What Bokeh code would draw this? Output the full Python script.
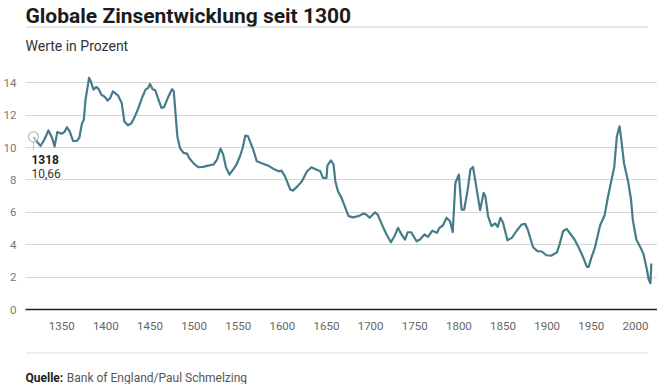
from bokeh.plotting import figure
from bokeh.models import Label, FixedTicker, Range1d
from bokeh.layouts import column
from bokeh.core.properties import value
from bokeh.embed import file_html
from bokeh.resources import INLINE

# ---------------- data ----------------
years = [1318, 1322, 1326, 1330, 1335, 1339, 1342, 1345, 1350, 1353, 1356, 1359,
         1363, 1367, 1370, 1373, 1375, 1377, 1381, 1383, 1386, 1389, 1392, 1395,
         1399, 1402, 1405, 1408, 1414, 1418, 1421, 1425, 1429, 1433, 1437, 1441,
         1445, 1448, 1450, 1453, 1456, 1459, 1463, 1466, 1471, 1475, 1477, 1478,
         1481, 1484, 1488, 1492, 1495, 1500, 1505, 1510, 1516, 1522, 1526, 1530,
         1533, 1536, 1540, 1545, 1548, 1552, 1555, 1558, 1561, 1567, 1571, 1578,
         1584, 1590, 1596, 1599, 1603, 1609, 1612, 1617, 1622, 1628, 1633, 1637,
         1643, 1646, 1650, 1651, 1655, 1658, 1660, 1663, 1667, 1675, 1680, 1686,
         1692, 1695, 1699, 1705, 1708, 1712, 1718, 1723, 1727, 1731, 1735, 1739,
         1742, 1746, 1752, 1756, 1761, 1765, 1770, 1775, 1778, 1782, 1786, 1790,
         1793, 1796, 1800, 1803, 1806, 1810, 1813, 1816, 1819, 1824, 1828, 1830,
         1833, 1837, 1841, 1844, 1847, 1850, 1855, 1860, 1865, 1871, 1875, 1878,
         1884, 1889, 1894, 1899, 1905, 1911, 1914, 1918, 1922, 1926, 1931, 1936,
         1941, 1945, 1947, 1950, 1954, 1960, 1965, 1969, 1973, 1976, 1979, 1982,
         1984, 1987, 1992, 1995, 1997, 2001, 2006, 2009, 2013, 2015, 2017, 2018]
rates = [10.66, 10.35, 10.10, 10.45, 11.05, 10.60, 10.07, 10.95, 10.85, 10.95, 11.25, 11.00,
         10.40, 10.40, 10.60, 11.50, 11.70, 12.95, 14.30, 14.08, 13.57, 13.74, 13.60, 13.26,
         13.12, 12.90, 13.06, 13.47, 13.20, 12.75, 11.60, 11.37, 11.50, 11.93, 12.45, 13.06,
         13.57, 13.68, 13.92, 13.60, 13.53, 13.06, 12.44, 12.50, 13.16, 13.60, 13.47, 12.75,
         10.70, 9.97, 9.67, 9.62, 9.30, 8.99, 8.78, 8.80, 8.88, 8.95, 9.25, 9.93,
         9.56, 8.80, 8.33, 8.70, 8.95, 9.46, 9.97, 10.73, 10.70, 9.87, 9.15, 9.00,
         8.88, 8.68, 8.53, 8.57, 8.22, 7.40, 7.34, 7.60, 7.90, 8.53, 8.78, 8.68,
         8.53, 8.12, 8.12, 8.88, 9.21, 8.95, 7.92, 7.30, 6.89, 5.76, 5.69, 5.76,
         5.92, 5.86, 5.66, 6.00, 5.86, 5.35, 4.63, 4.15, 4.52, 5.04, 4.63, 4.32,
         4.77, 4.77, 4.21, 4.32, 4.63, 4.48, 4.87, 4.73, 5.04, 5.20, 5.66, 5.45,
         4.78, 7.82, 8.33, 6.17, 6.17, 7.40, 8.64, 8.80, 7.82, 6.13, 7.20, 6.99,
         5.76, 5.14, 5.31, 5.10, 5.66, 5.35, 4.28, 4.42, 4.83, 5.24, 5.29, 4.94,
         3.84, 3.60, 3.58, 3.35, 3.33, 3.53, 4.01, 4.83, 4.98, 4.69, 4.32, 3.80,
         3.19, 2.63, 2.63, 3.19, 3.80, 5.20, 5.80, 6.99, 8.02, 8.80, 10.70, 11.31,
         10.49, 9.05, 7.82, 6.79, 5.55, 4.32, 3.80, 3.45, 2.47, 1.85, 1.62, 2.84]

x_ticks = [1350, 1400, 1450, 1500, 1550, 1600, 1650, 1700, 1750, 1800, 1850, 1900, 1950, 2000]
y_ticks = [0, 2, 4, 6, 8, 10, 12, 14]

title_text = "Globale Zinsentwicklung seit 1300"
subtitle_text = "Werte in Prozent"
source_head = "Quelle:"
source_text = "Bank of England/Paul Schmelzing"
hl_year = 1318
hl_value = 10.66
hl_value_text = "10,66"

# ---------------- styling ----------------
W = 648
HEAD_H, MAIN_H, FOOT_H = 58, 281, 45
BL, BR, BT, BB = 16, 0, 8, 30
LINE_COLOR = "#467c89"
FONT = "Roboto"


def text_panel(height):
    f = figure(width=W, height=height, output_backend="svg", toolbar_location=None,
               x_range=Range1d(0, W), y_range=Range1d(height, 0),
               min_border=0, x_axis_type=None, y_axis_type=None)
    f.outline_line_color = None
    f.xgrid.visible = False
    f.ygrid.visible = False
    f.background_fill_color = "white"
    f.border_fill_color = "white"
    return f


# ---------------- header ----------------
head = text_panel(HEAD_H)
head.text(x=[0], y=[15], text=[title_text], text_font=value(FONT), text_font_style="bold",
          text_font_size="21px", text_color="#1c1c1c", text_baseline="middle")
head.segment(x0=[0], y0=[26.5], x1=[W], y1=[26.5], line_color="#cfcfcf", line_width=1)
head.text(x=[0], y=[45], text=[subtitle_text], text_font=value(FONT),
          text_font_size="14px", text_color="#333333", text_baseline="middle")

# ---------------- main chart ----------------
p = figure(width=W, height=MAIN_H, output_backend="svg", toolbar_location=None,
           x_range=Range1d(1309, 2025), y_range=Range1d(0, 15),
           min_border_left=BL, min_border_right=BR, min_border_top=BT, min_border_bottom=BB)
p.frame_width = W - BL - BR
p.frame_height = MAIN_H - BT - BB
p.outline_line_color = None
p.background_fill_color = "white"
p.border_fill_color = "white"

p.xgrid.grid_line_color = None
p.ygrid.grid_line_color = "#d6d6d6"
p.ygrid.grid_line_width = 1

p.xaxis.ticker = FixedTicker(ticks=x_ticks)
p.yaxis.ticker = FixedTicker(ticks=y_ticks)
p.xaxis.axis_line_color = "#222222"
p.xaxis.axis_line_width = 1.5
p.xaxis.major_tick_line_color = None
p.xaxis.minor_tick_line_color = None
p.xaxis.major_label_standoff = 6
p.xaxis.major_label_text_font = FONT
p.xaxis.major_label_text_font_size = "11.5px"
p.xaxis.major_label_text_color = "#666666"

p.yaxis.axis_line_color = None
p.yaxis.major_tick_line_color = None
p.yaxis.minor_tick_line_color = None
p.yaxis.major_label_standoff = 3
p.yaxis.major_label_text_font = FONT
p.yaxis.major_label_text_font_size = "11.5px"
p.yaxis.major_label_text_color = "#777777"

p.line(years, rates, line_color=LINE_COLOR, line_width=2.2, line_join="round")

# highlight marker
p.segment(x0=[hl_year], y0=[hl_value - 0.32], x1=[hl_year], y1=[hl_value - 0.8],
          line_color="#bbbbbb", line_width=1)
p.scatter([hl_year], [hl_value], marker="circle", size=10, fill_color="white",
          fill_alpha=0.5, line_color="#bbbbbb", line_width=1.2)
p.add_layout(Label(x=hl_year, y=hl_value, x_offset=-2, y_offset=-23, text=str(hl_year),
                   text_font=FONT, text_font_style="bold", text_font_size="12px",
                   text_color="#222222", text_baseline="middle", text_align="left"))
p.add_layout(Label(x=hl_year, y=hl_value, x_offset=-2, y_offset=-37, text=hl_value_text,
                   text_font=FONT, text_font_size="12px",
                   text_color="#333333", text_baseline="middle", text_align="left"))

# ---------------- footer ----------------
foot = text_panel(FOOT_H)
foot.segment(x0=[0], y0=[13.5], x1=[W], y1=[13.5], line_color="#dddddd", line_width=1)
foot.text(x=[0], y=[38], text=[source_head], text_font=value(FONT), text_font_style="bold",
          text_font_size="12px", text_color="#222222", text_baseline="middle")
foot.text(x=[43], y=[38], text=[source_text], text_font=value(FONT),
          text_font_size="12px", text_color="#555555", text_baseline="middle")

layout = column(head, p, foot, spacing=0)
open("out.html", "w").write(file_html(layout, INLINE))
